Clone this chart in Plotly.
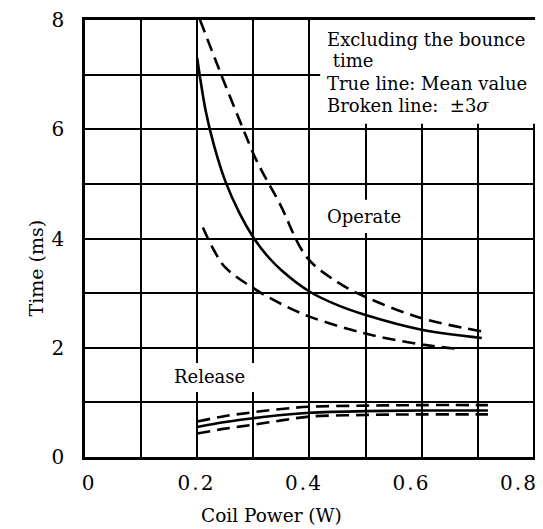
import plotly.graph_objects as go

# ---- data ----
op_mean_x = [0.2, 0.205, 0.215, 0.23, 0.25, 0.275, 0.3, 0.325, 0.35, 0.4, 0.45, 0.5, 0.6, 0.707]
op_mean_y = [7.3, 6.95, 6.34, 5.7, 5.05, 4.47, 4.02, 3.68, 3.42, 3.03, 2.78, 2.6, 2.33, 2.18]

op_upper_x = [0.205, 0.24, 0.276, 0.306, 0.347, 0.395, 0.45, 0.5, 0.6, 0.707]
op_upper_y = [8.0, 7.07, 6.15, 5.42, 4.64, 3.66, 3.2, 2.93, 2.54, 2.3]

op_lower_x = [0.21, 0.23, 0.25, 0.3, 0.35, 0.4, 0.5, 0.6, 0.665]
op_lower_y = [4.2, 3.78, 3.47, 3.09, 2.8, 2.57, 2.26, 2.06, 1.98]

rel_x = [0.2, 0.25, 0.3, 0.35, 0.4, 0.5, 0.6, 0.718]
rel_upper_y = [0.65, 0.75, 0.82, 0.88, 0.92, 0.94, 0.95, 0.95]
rel_mean_y = [0.55, 0.64, 0.71, 0.77, 0.81, 0.84, 0.85, 0.85]
rel_lower_y = [0.43, 0.52, 0.59, 0.67, 0.74, 0.77, 0.78, 0.78]

x_tick_vals = [0, 0.2, 0.4, 0.6, 0.8]
x_tick_text = ["0", "0\u200a.\u200a2", "0\u200a.\u200a4", "0\u200a.\u200a6", "0\u200a.\u200a8"]
y_tick_vals = [0, 2, 4, 6, 8]
y_tick_text = ["0", "2", "4", "6", "8"]

FONT = "DejaVu Serif, serif"
DASH = "13px,7px"

fig = go.Figure()

def add_line(x, y, dash=None):
    fig.add_trace(go.Scatter(
        x=x, y=y, mode="lines", line_shape="spline",
        line=dict(color="black", width=2.6, dash=dash if dash else "solid"),
        showlegend=False, hoverinfo="skip"))

add_line(op_mean_x, op_mean_y)
add_line(op_upper_x, op_upper_y, DASH)
add_line(op_lower_x, op_lower_y, DASH)
add_line(rel_x, rel_upper_y, DASH)
add_line(rel_x, rel_mean_y)
add_line(rel_x, rel_lower_y, DASH)

# empty trace that carries the label axis (the printed labels sit on a slightly
# narrower scale than the printed grid)
fig.add_trace(go.Scatter(x=[None], y=[None], xaxis="x2", yaxis="y",
                         showlegend=False, hoverinfo="skip"))

# white patches that interrupt the grid behind text
for (x0, x1, y0, y1) in [(0.419, 0.809, 6.1, 8.0),
                         (0.43, 0.57, 4.1, 4.71),
                         (0.15, 0.32, 1.19, 1.72)]:
    fig.add_shape(type="rect", xref="x", yref="y", x0=x0, x1=x1, y0=y0, y1=y1,
                  fillcolor="white", line=dict(width=0), layer="between")

ann_font = dict(family=FONT, size=18, color="black")
lines = [("Excluding the bounce", 0.428, 7.65),
         (" time", 0.428, 7.25),
         ("True line: Mean value", 0.428, 6.84),
         ("Broken line:  \u00b13<i>\u03c3</i>", 0.428, 6.43)]
for t, x, y in lines:
    fig.add_annotation(text=t, x=x, y=y, xref="x", yref="y", xanchor="left",
                       yanchor="middle", showarrow=False, font=ann_font)

fig.add_annotation(text="Operate", x=0.498, y=4.41, xref="x", yref="y",
                   showarrow=False, font=ann_font)
fig.add_annotation(text="Release", x=0.221, y=1.47, xref="x", yref="y",
                   showarrow=False, font=ann_font)

# axis titles
fig.add_annotation(text="Time (ms)", x=-0.1366, y=3.47, xref="paper", yref="y",
                   textangle=-90, showarrow=False, font=dict(family=FONT, size=19, color="black"))
fig.add_annotation(text="Coil Power (W)", x=0.41, y=-0.135, xref="paper", yref="paper",
                   yanchor="middle", showarrow=False, font=dict(family=FONT, size=18.5, color="black"))

fig.update_layout(
    xaxis=dict(range=[0, 0.809], tickvals=x_tick_vals, showticklabels=False,
               showgrid=True, gridcolor="black", gridwidth=1.5,
               minor=dict(dtick=0.1, showgrid=True, gridcolor="black", gridwidth=1.5),
               showline=True, linecolor="black", linewidth=2.5, mirror=True,
               zeroline=False, ticks="", automargin=False),
    xaxis2=dict(overlaying="x", anchor="y", side="bottom", range=[-0.0056, 0.8391],
                tickvals=x_tick_vals, ticktext=x_tick_text, showgrid=False,
                showline=False, zeroline=False, ticks="", ticklabelstandoff=12,
                ticklabeloverflow="allow", automargin=False,
                tickfont=dict(family=FONT, size=20, color="black")),
    yaxis=dict(range=[0, 8], tickvals=y_tick_vals, ticktext=y_tick_text,
               showgrid=True, gridcolor="black", gridwidth=1.5,
               minor=dict(dtick=1, showgrid=True, gridcolor="black", gridwidth=1.5),
               showline=True, linecolor="black", linewidth=2.5, mirror=True,
               zeroline=False, ticks="", ticklabelstandoff=14,
               ticklabeloverflow="allow", automargin=False,
               tickfont=dict(family=FONT, size=20, color="black")),
    # page body has an 8px default margin, so the figure is sized and offset for it
    width=535, height=521, margin=dict(l=77, r=4, t=12, b=72),
    plot_bgcolor="white", paper_bgcolor="white")

fig.write_html("out.html")
